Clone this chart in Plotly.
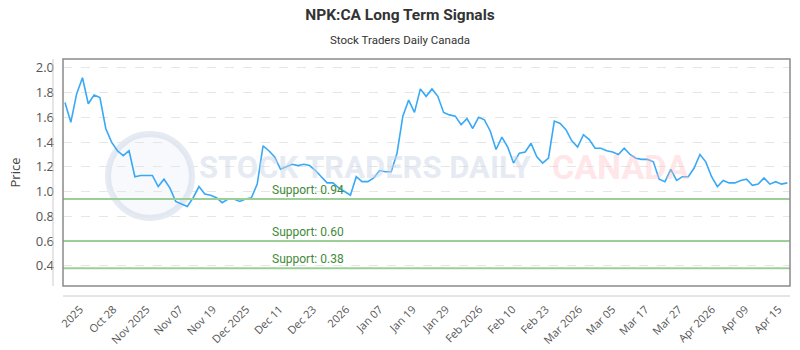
import plotly.graph_objects as go
import numpy as np

prices = [
    1.72, 1.56, 1.79, 1.92, 1.71, 1.78, 1.76, 1.51, 1.40, 1.33, 1.29, 1.33, 1.12, 1.13, 1.13, 1.13,
    1.04, 1.10, 1.03, 0.92, 0.90, 0.88,
    0.95, 1.04, 0.98, 0.97, 0.95, 0.91, 0.94, 0.94, 0.92, 0.94, 0.95, 1.06, 1.37, 1.33, 1.28, 1.18,
    1.20, 1.22, 1.21, 1.22, 1.21,
    1.17, 1.12, 1.07, 1.07, 1.03, 1.00, 0.97, 1.12, 1.08, 1.08, 1.11, 1.17, 1.16, 1.16, 1.31, 1.61,
    1.74, 1.64, 1.83, 1.77, 1.83, 1.77,
    1.64, 1.62, 1.61, 1.54, 1.59, 1.51, 1.60, 1.58, 1.49, 1.34, 1.44, 1.36, 1.23, 1.31, 1.32, 1.39,
    1.28, 1.23, 1.27, 1.57, 1.55,
    1.50, 1.41, 1.36, 1.46, 1.42, 1.35, 1.35, 1.33, 1.32, 1.30, 1.35, 1.30, 1.27, 1.26, 1.26, 1.24,
    1.10, 1.08, 1.18, 1.09, 1.12, 1.12,
    1.19, 1.30, 1.24, 1.12, 1.04, 1.09, 1.07, 1.07, 1.09, 1.10, 1.05, 1.06, 1.11, 1.06, 1.08, 1.06, 1.07,
]
tick_labels = ["2025", "Oct 28", "Nov 2025", "Nov 07", "Nov 19", "Dec 2025", "Dec 11", "Dec 23",
               "2026", "Jan 07", "Jan 19", "Jan 29", "Feb 2026", "Feb 10", "Feb 23", "Mar 2026",
               "Mar 05", "Mar 17", "Mar 27", "Apr 2026", "Apr 09", "Apr 15"]
support_levels = [0.94, 0.60, 0.38]

x_idx = list(range(len(prices)))
tick_pos = np.linspace(2.6, 122.5, len(tick_labels))

PW, PH, L, T = 727, 227, 63, 59


def px(xp):
    return (xp - L) / PW


def py(yp):
    return (T + PH - yp) / PH


fig = go.Figure()
fig.add_trace(go.Scatter(x=x_idx, y=prices, mode="lines",
                         line=dict(color="#3aa9f5", width=1.6), hoverinfo="skip"))

for s in support_levels:
    fig.add_shape(type="line", xref="paper", x0=0, x1=1, yref="y", y0=s, y1=s,
                  line=dict(color="#9ccf97", width=2), layer="above")
    fig.add_annotation(x=35.2, y=s, xref="x", yref="y", text=f"Support: {s:.2f}",
                       showarrow=False, xanchor="left", yanchor="bottom", yshift=0,
                       font=dict(family="Roboto", size=12, color="#3f8a3a"))

# watermark
fig.add_shape(type="circle", xref="paper", yref="paper",
              x0=px(108), x1=px(192), y0=py(218), y1=py(134),
              line=dict(color="rgba(200,210,228,0.45)", width=6), fillcolor="rgba(225,232,242,0.25)",
              layer="below")
fig.add_annotation(xref="paper", yref="paper", x=px(365), y=py(167), xanchor="center", yanchor="middle",
                   text="<b>STOCK TRADERS DAILY</b>", showarrow=False,
                   font=dict(family="Roboto", size=31, color="rgba(205,214,230,0.5)"))
fig.add_annotation(xref="paper", yref="paper", x=px(620), y=py(167), xanchor="center", yanchor="middle",
                   text="<b>CANADA</b>", showarrow=False,
                   font=dict(family="Roboto", size=34, color="rgba(255,190,195,0.4)"))
fig.add_annotation(xref="paper", yref="paper", x=px(400), y=py(40), xanchor="center", yanchor="middle",
                   text="Stock Traders Daily Canada", showarrow=False,
                   font=dict(family="Roboto", size=11.5, color="#333333"))

# plot border and offset axis lines
fig.add_shape(type="rect", xref="paper", yref="paper", x0=0, x1=1, y0=0, y1=1,
              line=dict(color="#8a8a8a", width=1.5), layer="above")
fig.add_shape(type="line", xref="paper", yref="paper", x0=px(53), x1=px(53), y0=0, y1=1,
              line=dict(color="#cccccc", width=1))
fig.add_shape(type="line", xref="paper", yref="paper", x0=0, x1=1, y0=py(296), y1=py(296),
              line=dict(color="#cccccc", width=1))

fig.update_layout(
    width=800, height=350,
    margin=dict(l=L, r=800 - L - PW, t=T, b=350 - T - PH),
    paper_bgcolor="white", plot_bgcolor="white",
    showlegend=False,
    title=dict(text="<b>NPK:CA Long Term Signals</b>", x=0.5, xanchor="center", y=1 - 15 / 350,
               yanchor="middle",
               font=dict(family="Roboto", size=15.5, color="#333333")),
    xaxis=dict(range=[-0.34, 124.46], tickmode="array", tickvals=tick_pos, ticktext=tick_labels,
               tickangle=-45, showgrid=False, zeroline=False, showline=False, ticks="",
               ticklabelstandoff=14, automargin=False,
               tickfont=dict(family="Open Sans", size=11, color="#555555")),
    yaxis=dict(range=[0.236, 2.072], dtick=0.2, tick0=0, tickformat=".1f", showgrid=True,
               gridcolor="#e6e6e6", griddash="dash", zeroline=False, showline=False, ticks="",
               ticklabelstandoff=8, automargin=False,
               title=dict(text="Price", font=dict(family="Open Sans", size=13, color="#444444"), standoff=12),
               tickfont=dict(family="Open Sans", size=13, color="#555555")),
)

fig.write_html("out.html")
